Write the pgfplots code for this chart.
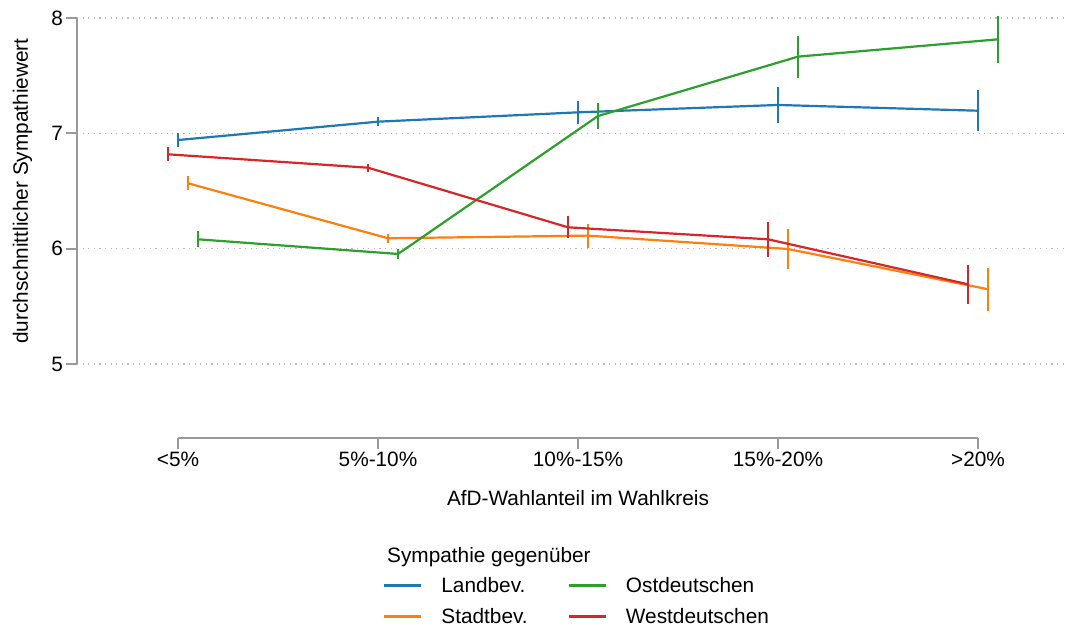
\documentclass[border=0pt]{standalone}
\usepackage{fontspec}
\setmainfont{Liberation Sans}
\usepackage{pgfplots}
\pgfplotsset{compat=1.18}
\usepackage{pgfplotstable}
\definecolor{cblue}{HTML}{1F77B4}
\definecolor{corange}{HTML}{FF7F0E}
\definecolor{cgreen}{HTML}{2CA02C}
\definecolor{cred}{HTML}{D62728}
\definecolor{axisgray}{HTML}{999999}
\definecolor{gridgray}{HTML}{BBBBBB}

\pgfplotstableread{
x y e
0 6.942 0.060
1 7.101 0.037
2 7.182 0.098
3 7.246 0.159
4 7.196 0.180
}\landbev
\pgfplotstableread{
x y e
0.05 6.567 0.060
1.05 6.090 0.040
2.05 6.113 0.105
3.05 5.997 0.170
4.05 5.648 0.188
}\stadtbev
\pgfplotstableread{
x y e
0.1 6.081 0.070
1.1 5.954 0.043
2.1 7.150 0.113
3.1 7.665 0.182
4.1 7.815 0.204
}\ost
\pgfplotstableread{
x y e
-0.05 6.818 0.062
0.95 6.702 0.036
1.95 6.185 0.097
2.95 6.081 0.152
3.95 5.691 0.169
}\west

\begin{document}
\begin{tikzpicture}[font=\fontsize{20.8}{25}\selectfont]
\useasboundingbox (-77pt,-192pt) rectangle (993pt,438pt);
\begin{axis}[
  at={(0pt,0pt)}, anchor=south west,
  scale only axis, width=990pt, height=420pt,
  xmin=-0.505, xmax=4.445, ymin=4.358, ymax=8,
  clip=false,
  axis line style={draw=none},
  xtick={0,1,2,3,4},
  xticklabels={<5\%,5\%-10\%,10\%-15\%,15\%-20\%,>20\%},
  ytick={5,6,7,8},
  tick pos=left,
  tick align=outside,
  major tick length=10.5pt,
  tick style={axisgray, line width=2pt},
  ymajorgrids,
  major grid style={gridgray, line width=1.2pt, dash pattern=on 1.2pt off 4.4pt},
  /pgf/number format/assume math mode=true,
  legend style={at={(axis description cs:0.3091,-0.3262)}, anchor=north west,
    draw=none, fill=none, inner sep=0pt, row sep=10.5pt, column sep=17pt,
    /tikz/every even column/.append style={column sep=38pt},
    nodes={inner sep=2pt, text depth=0.15em}},
  legend columns=2, transpose legend, legend cell align=left,
  legend image code/.code={\draw[#1] (0pt,0pt) -- (37pt,0pt);},
]
\draw[axisgray, line width=2pt] (axis cs:-0.505,5) -- (axis cs:-0.505,8);
\draw[axisgray, line width=2pt] (axis cs:0,4.358) -- (axis cs:4,4.358);

\addplot[forget plot, cblue, line width=2.2pt, mark=none,
  error bars/.cd, y dir=both, y explicit, error mark=none,
  error bar style={line width=2.2pt, cblue}]
  table[x=x, y=y, y error=e] {\landbev};
\addplot[forget plot, corange, line width=2.2pt, mark=none,
  error bars/.cd, y dir=both, y explicit, error mark=none,
  error bar style={line width=2.2pt, corange}]
  table[x=x, y=y, y error=e] {\stadtbev};
\addplot[forget plot, cgreen, line width=2.2pt, mark=none,
  error bars/.cd, y dir=both, y explicit, error mark=none,
  error bar style={line width=2.2pt, cgreen}]
  table[x=x, y=y, y error=e] {\ost};
\addplot[forget plot, cred, line width=2.2pt, mark=none,
  error bars/.cd, y dir=both, y explicit, error mark=none,
  error bar style={line width=2.2pt, cred}]
  table[x=x, y=y, y error=e] {\west};

\addlegendimage{cblue, line width=2.2pt}
\addlegendentry{Landbev.}
\addlegendimage{corange, line width=2.2pt}
\addlegendentry{Stadtbev.}
\addlegendimage{cgreen, line width=2.2pt}
\addlegendentry{Ostdeutschen}
\addlegendimage{cred, line width=2.2pt}
\addlegendentry{Westdeutschen}

\node[anchor=base, inner sep=0pt] at ([yshift=-67pt]axis cs:2,4.358) {AfD-Wahlanteil im Wahlkreis};
\node[rotate=90, inner sep=0pt] at ([xshift=-54.5pt]axis cs:-0.505,6.5) {durchschnittlicher Sympathiewert};
\end{axis}
\node[anchor=base west, inner sep=0pt] at (310pt,-124pt) {Sympathie gegenüber};
\end{tikzpicture}
\end{document}
